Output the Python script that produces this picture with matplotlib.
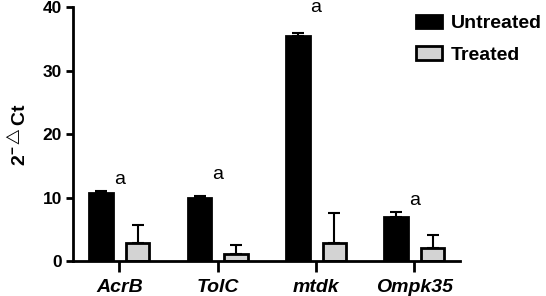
import numpy as np
import matplotlib.pyplot as plt

plt.rcParams['font.family'] = ['Liberation Sans', 'DejaVu Sans']
plt.rcParams['mathtext.fontset'] = 'custom'
plt.rcParams['mathtext.rm'] = 'Liberation Sans:bold'
plt.rcParams['mathtext.bf'] = 'Liberation Sans:bold'

genes = ['AcrB', 'TolC', 'mtdk', 'Ompk35']
untreated = [10.8, 9.9, 35.5, 7.0]
untreated_err = [0.3, 0.4, 0.5, 0.7]
treated = [2.9, 1.1, 2.9, 2.0]
treated_err = [2.8, 1.5, 4.6, 2.1]
letters = ['a', 'a', 'a', 'a']
letter_y = [12.9, 13.7, 40.0, 9.6]

fig = plt.figure(figsize=(5.46, 2.96), dpi=100)
ax = fig.add_axes([0.134, 0.118, 0.708, 0.858])

x = np.arange(len(genes))
w = 0.24
off = 0.185

# barres
ax.bar(x - off, untreated, w, color='black', edgecolor='black', linewidth=2, label='Untreated', zorder=2)
ax.bar(x + off, treated, w, color='#d3d3d3', edgecolor='black', linewidth=2, label='Treated', zorder=2)

# barres d'erreur (seulement vers le haut)
ax.errorbar(x - off, untreated, yerr=[np.zeros(4), untreated_err], fmt='none',
            ecolor='black', elinewidth=1.5, capsize=4.5, capthick=1.5, zorder=1)
ax.errorbar(x + off, treated, yerr=[np.zeros(4), treated_err], fmt='none',
            ecolor='black', elinewidth=1.5, capsize=4.5, capthick=1.5, zorder=1)

for i in range(len(genes)):
    ax.text(x[i], letter_y[i], letters[i], ha='center', va='center', fontsize=14, clip_on=False)

ax.set_xlim(-0.47, 3.46)
ax.set_ylim(0, 40)
ax.set_yticks([0, 10, 20, 30, 40])
ax.set_xticks(x)
ax.set_xticklabels(genes, fontstyle='italic', fontweight='bold', fontsize=14)
for lab in ax.get_yticklabels():
    lab.set_fontweight('bold')
    lab.set_fontsize(12.5)

ax.spines['top'].set_visible(False)
ax.spines['right'].set_visible(False)
ax.spines['left'].set_linewidth(2)
ax.spines['bottom'].set_linewidth(2)
ax.tick_params(axis='y', width=2, length=5, pad=3)
ax.tick_params(axis='x', width=2, length=8, pad=5)

ax.set_ylabel(r'2$^{-\triangle}$Ct', fontsize=14, fontweight='bold', labelpad=9)

ax.legend(loc='upper left', bbox_to_anchor=(0.866, 1.0), frameon=False,
          prop={'weight': 'bold', 'size': 14}, handlelength=1.34, handleheight=0.67,
          labelspacing=0.72, handletextpad=0.46, borderaxespad=0.0)

plt.savefig('out.png', dpi=100)
